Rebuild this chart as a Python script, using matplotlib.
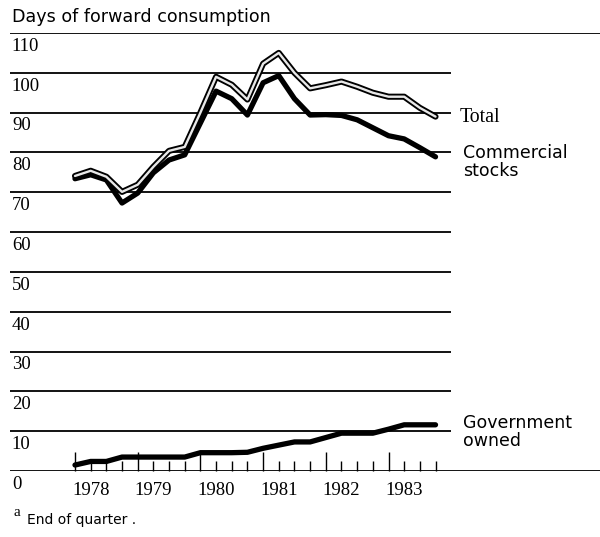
import numpy as np
import matplotlib.pyplot as plt

# Trimestres (fin de trimestre), 1978 T1 a 1983 T4
trimestres = np.arange(1978, 1984, 0.25)
anios = [1978, 1979, 1980, 1981, 1982, 1983]

# Dias de consumo futuro
total = [74.1, 75.4, 73.9, 70.1, 71.9, 76.4, 80.4, 81.4, 90.0, 99.0, 97.0, 93.3,
         102.3, 105.0, 100.0, 96.1, 96.9, 97.8, 96.5, 95.0, 94.0, 94.0, 91.2, 89.0]
comercial = [73.4, 74.4, 73.1, 67.3, 69.8, 74.9, 78.1, 79.4, 87.4, 95.4, 93.5, 89.4,
             97.5, 99.3, 93.5, 89.4, 89.5, 89.3, 88.2, 86.2, 84.2, 83.4, 81.2, 78.9]
gobierno = [1.5, 2.4, 2.4, 3.5, 3.5, 3.5, 3.5, 3.5, 4.6, 4.6, 4.6, 4.7,
            5.7, 6.5, 7.3, 7.3, 8.4, 9.5, 9.5, 9.5, 10.5, 11.6, 11.6, 11.6]

niveles = [10, 20, 30, 40, 50, 60, 70, 80, 90, 100]
etiquetas_y = [0, 10, 20, 30, 40, 50, 60, 70, 80, 90, 100, 110]

serif = 'Liberation Serif'
sans = 'DejaVu Sans'

fig = plt.figure(figsize=(6, 5.37), dpi=100)
ax = fig.add_axes([0, 66 / 537, 1, 438 / 537])
x0 = 1978 + (0 - 75) / 62.7
x1 = 1978 + (600 - 75) / 62.7
xg = 1978 + (10 - 75) / 62.7
ax.set_xlim(x0, x1)
ax.set_ylim(0, 110)
for s in ax.spines.values():
    s.set_visible(False)

# Lineas horizontales
ax.hlines(niveles, xg, 1984.0, color='black', lw=1.3)
ax.hlines([110, 0], xg, x1, color='black', lw=1.3)

# Series
ax.plot(trimestres, comercial, color='black', lw=3.8, solid_capstyle='round', solid_joinstyle='round')
ax.plot(trimestres, total, color='black', lw=4.4, solid_capstyle='round', solid_joinstyle='round')
ax.plot(trimestres, total, color='#e8e8e8', lw=1.7, solid_capstyle='round', solid_joinstyle='round')
ax.plot(trimestres, gobierno, color='black', lw=3.8, solid_capstyle='round', solid_joinstyle='round')

# Marcas del eje x
ax.set_xticks(anios)
ax.set_xticks(trimestres, minor=True)
ax.tick_params(axis='x', which='major', direction='in', length=14, width=1.0, labelbottom=False)
ax.tick_params(axis='x', which='minor', direction='in', length=7, width=1.0)
ax.set_yticks([])
for a in anios:
    ax.text(a + 0.25, -4.8, str(a), family=serif, fontsize=13.5, ha='center', va='center')

# Etiquetas del eje y
for v in etiquetas_y:
    ax.text(xg + 0.03, v - 1.2, str(v), family=serif, fontsize=13.5, ha='left', va='top')

ax.text(xg + 0.03, 114.1, 'Days of forward consumption', family=sans, fontsize=12.6, ha='left', va='center')
ax.text(1984.14, 88.7, 'Total', family=serif, fontsize=14.3, ha='left', va='center')
ax.text(1984.19, 77.6, 'Commercial\nstocks', family=sans, fontsize=12.5, ha='left', va='center',
        linespacing=1.05)
ax.text(1984.19, 9.8, 'Government\nowned', family=sans, fontsize=12.5, ha='left', va='center',
        linespacing=1.05)
ax.text(xg + 0.05, -10.3, 'a', family=serif, fontsize=11, ha='left', va='center')
ax.text(xg + 0.27, -12.3, 'End of quarter .', family=sans, fontsize=10, ha='left', va='center')

plt.savefig('out.png', dpi=100)
